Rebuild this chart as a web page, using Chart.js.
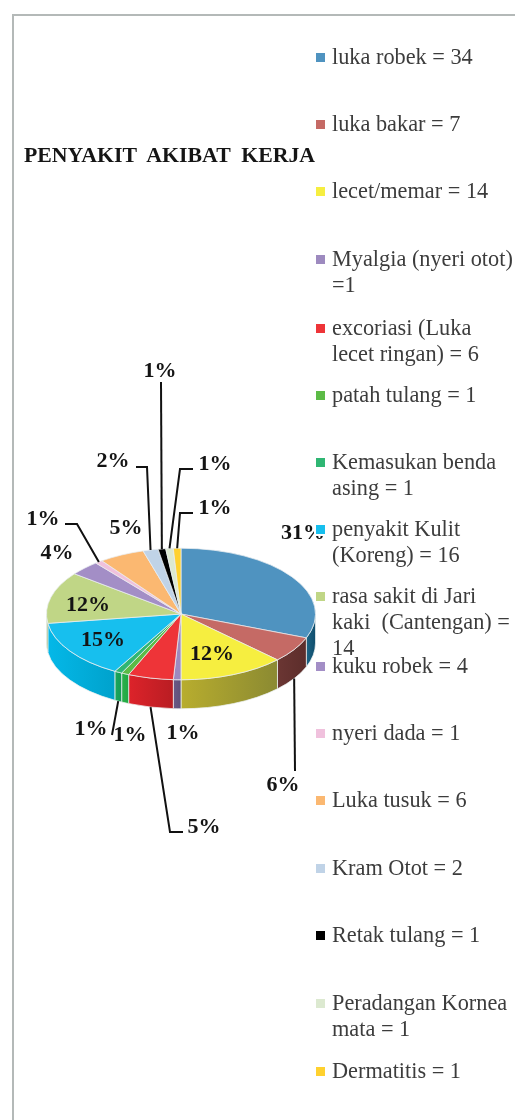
<!DOCTYPE html>
<html>
<head>
<meta charset="utf-8">
<title>Penyakit akibat kerja</title>
<script src="https://cdn.jsdelivr.net/npm/chart.js@4/dist/chart.umd.min.js"></script>
<style>
  html, body { margin: 0; padding: 0; background: #fff; }
  #page { position: relative; width: 515px; height: 1120px; overflow: hidden; font-family: "Liberation Serif", serif; }
  #frame { position: absolute; left: 12px; top: 14px; right: -5px; bottom: -5px; border-left: 2.5px solid #b4b9b8; border-top: 2.5px solid #b4b9b8; }
  #chart { position: absolute; left: 0; top: 0; display: block; }
  #title { position: absolute; left: 24px; top: 143px; font-weight: bold; font-size: 21.8px; line-height: 24px; color: #151515; white-space: pre; }
  .legend-row { position: absolute; left: 332px; font-size: 22.3px; line-height: 26px; color: #3c3c3c; white-space: pre; }
  .legend-box { position: absolute; left: 316px; width: 9px; height: 9px; box-shadow: 0 0 0 2px #fff; }
</style>
</head>
<body>
<div id="page">
  <div id="frame"></div>
  <canvas id="chart" width="515" height="1120"></canvas>
  <div id="title">PENYAKIT  AKIBAT  KERJA</div>
  <div id="legend"></div>
</div>
<script>
const categories = ['luka robek', 'luka bakar', 'lecet/memar', 'Myalgia (nyeri otot)', 'excoriasi (Luka lecet ringan)', 'patah tulang', 'Kemasukan benda asing', 'penyakit Kulit (Koreng)', 'rasa sakit di Jari kaki (Cantengan)', 'kuku robek', 'nyeri dada', 'Luka tusuk', 'Kram Otot', 'Retak tulang', 'Peradangan Kornea mata', 'Dermatitis'];
const values = [34, 7, 14, 1, 6, 1, 1, 16, 14, 4, 1, 6, 2, 1, 1, 1];
const percentLabels = ['31%', '6%', '12%', '1%', '5%', '1%', '1%', '15%', '12%', '4%', '1%', '5%', '2%', '1%', '1%', '1%'];
const legendLines = [
  ['luka robek = 34'],
  ['luka bakar = 7'],
  ['lecet/memar = 14'],
  ['Myalgia (nyeri otot)', '=1'],
  ['excoriasi (Luka', 'lecet ringan) = 6'],
  ['patah tulang = 1'],
  ['Kemasukan benda', 'asing = 1'],
  ['penyakit Kulit', '(Koreng) = 16'],
  ['rasa sakit di Jari', 'kaki  (Cantengan) =', '14'],
  ['kuku robek = 4'],
  ['nyeri dada = 1'],
  ['Luka tusuk = 6'],
  ['Kram Otot = 2'],
  ['Retak tulang = 1'],
  ['Peradangan Kornea', 'mata = 1'],
  ['Dermatitis = 1']
];

// warna
const topColors = ['#4f93c0', '#c56a65', '#f6ee40', '#9d8abf', '#ee3438', '#5cbb46', '#2fb673', '#17bfee', '#c0d686', '#a38ec6', '#f0c1dd', '#fbb871', '#c0d3e7', '#000000', '#dce9d0', '#ffd12f'];
const wallColors = [
  ['#1d6485', '#0f4d6c'], ['#6b3633', '#5c2d2b'], ['#b8ad2e', '#8b8a32'], ['#6a5a86', '#5f5079'],
  ['#dd232a', '#b91d23'], ['#2bb04a', '#22a843'], ['#1aa65c', '#169c54'], ['#04b8e8', '#00a2cc'],
  ['#8fa860', '#8fa860'], ['#75639a', '#75639a'], ['#c49ab2', '#c49ab2'], ['#cf944f', '#cf944f'],
  ['#97a9bd', '#97a9bd'], ['#000000', '#000000'], ['#b2bfa6', '#b2bfa6'], ['#cfa820', '#cfa820']
];
const legendTops = [57, 124, 191, 259, 328, 395, 462, 529, 596, 666, 733, 800, 868, 935, 1003, 1071];

// posisi teks persen (tengah teks) dan siku garis penunjuk
const labelSpots = [[303, 533], [283, 785], [212, 654], [183, 733], [204, 827], [130, 735], [91, 729], [103, 640], [88, 605], [57, 553], [43, 519], [126, 528], [113, 461], [160, 371], [215, 464], [215, 508]];
const leaderBends = {
  1: { points: [[295, 771]], front: true },
  4: { points: [[183, 832], [170, 832]], front: true },
  6: { points: [[112, 735]], front: true },
  10: { points: [[65, 524], [77, 524]] },
  12: { points: [[136, 467], [147, 467]] },
  13: { points: [[161, 382]] },
  14: { points: [[193, 469], [180, 469]] },
  15: { points: [[193, 513], [180, 513]] }
};
const squash = 0.489;
const wallDepth = 29;

const pie3d = {
  id: 'pie3d',
  beforeDatasetsDraw(chart) {
    const ctx = chart.ctx;
    const arcs = chart.getDatasetMeta(0).data;
    const cx = arcs[0].x, cy = arcs[0].y, rx = arcs[0].outerRadius, ry = rx * squash;

    // dinding samping, hanya bagian depan
    arcs.forEach((arc, i) => {
      const a0 = Math.max(arc.startAngle, 0);
      const a1 = Math.min(arc.endAngle, Math.PI);
      if (a1 <= a0) return;
      const g = ctx.createLinearGradient(cx + rx * Math.cos(a1), 0, cx + rx * Math.cos(a0), 0);
      g.addColorStop(0, wallColors[i][0]);
      g.addColorStop(1, wallColors[i][1]);
      ctx.beginPath();
      ctx.ellipse(cx, cy, rx, ry, 0, a0, a1);
      ctx.ellipse(cx, cy + wallDepth, rx, ry, 0, a1, a0, true);
      ctx.closePath();
      ctx.fillStyle = g;
      ctx.fill();
      ctx.strokeStyle = 'rgba(235,240,240,0.75)';
      ctx.lineWidth = 1;
      ctx.stroke();
    });

    ctx.save();
    ctx.translate(cx, cy);
    ctx.scale(1, squash);
    ctx.translate(-cx, -cy);
  },
  afterDatasetsDraw(chart) {
    const ctx = chart.ctx;
    ctx.restore();

    const arcs = chart.getDatasetMeta(0).data;
    ctx.strokeStyle = '#111';
    ctx.lineWidth = 2;
    Object.keys(leaderBends).forEach(k => {
      const arc = arcs[k];
      const mid = (arc.startAngle + arc.endAngle) / 2;
      const ex = arc.x + arc.outerRadius * Math.cos(mid);
      const ey = arc.y + arc.outerRadius * squash * Math.sin(mid) + (leaderBends[k].front ? wallDepth : 0);
      ctx.beginPath();
      leaderBends[k].points.forEach((p, j) => j ? ctx.lineTo(p[0], p[1]) : ctx.moveTo(p[0], p[1]));
      ctx.lineTo(ex, ey);
      ctx.stroke();
    });

    ctx.font = 'bold 22px "Liberation Serif", serif';
    ctx.fillStyle = '#141414';
    ctx.textAlign = 'center';
    ctx.textBaseline = 'middle';
    percentLabels.forEach((t, i) => ctx.fillText(t, labelSpots[i][0], labelSpots[i][1]));
  }
};

new Chart(document.getElementById('chart'), {
  type: 'doughnut',
  data: {
    labels: categories,
    datasets: [{
      data: values,
      backgroundColor: topColors,
      borderColor: '#e9eef0',
      borderWidth: 1
    }]
  },
  options: {
    responsive: false,
    animation: false,
    cutout: 0,
    layout: { padding: { left: 46, right: 199, top: 479, bottom: 371 } },
    plugins: { legend: { display: false }, tooltip: { enabled: false } }
  },
  plugins: [pie3d]
});

const legendEl = document.getElementById('legend');
legendLines.forEach((lines, i) => {
  const box = document.createElement('div');
  box.className = 'legend-box';
  box.style.top = (legendTops[i] - 4.5) + 'px';
  box.style.background = topColors[i];
  legendEl.appendChild(box);
  const row = document.createElement('div');
  row.className = 'legend-row';
  row.style.top = (legendTops[i] - 13) + 'px';
  row.textContent = lines.join('\n');
  legendEl.appendChild(row);
});
</script>
</body>
</html>
